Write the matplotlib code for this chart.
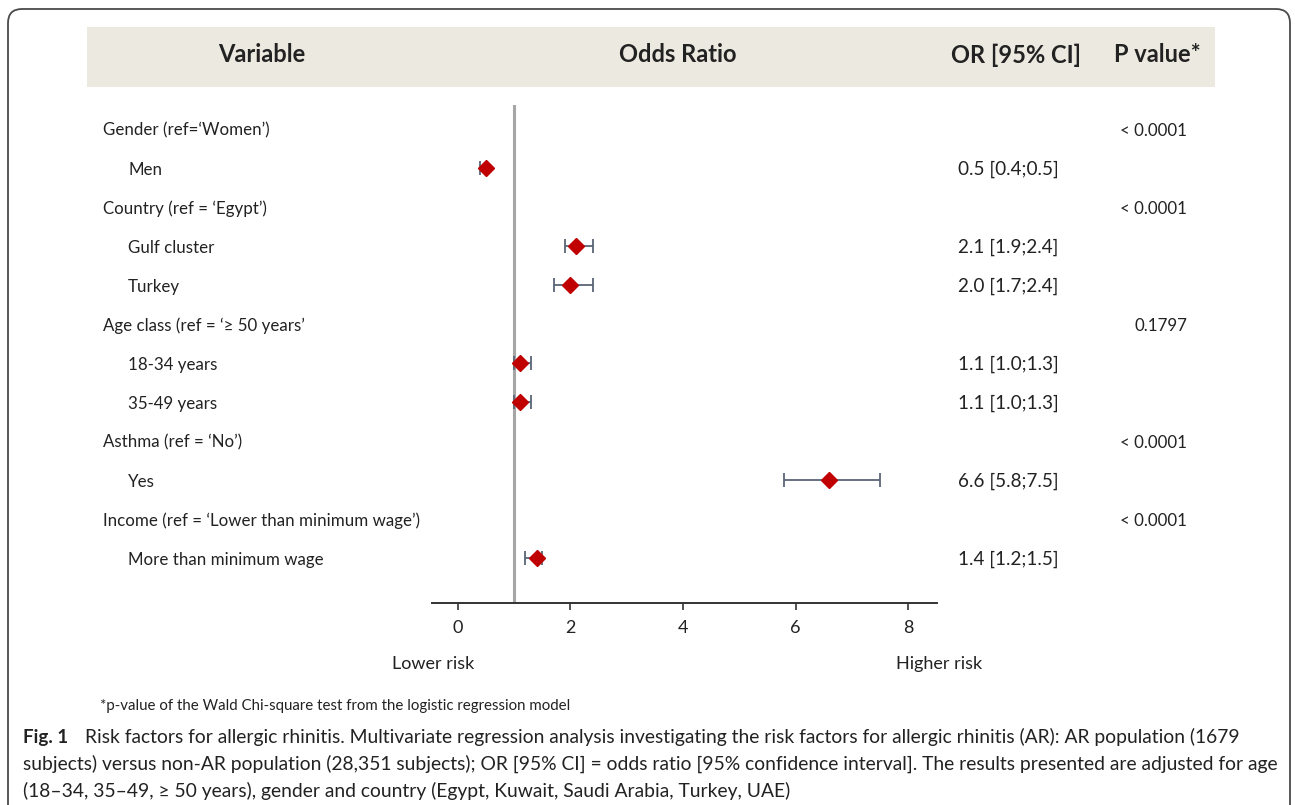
import matplotlib
matplotlib.use("Agg")
from matplotlib import pyplot as plt
from matplotlib.patches import Rectangle, FancyBboxPatch
from matplotlib.transforms import blended_transform_factory, IdentityTransform

plt.rcParams['font.family'] = ['Lato', 'DejaVu Sans']

# rows of the table, top to bottom
row_labels = ["Gender (ref=\u2018Women\u2019)", "Men",
              "Country (ref = \u2018Egypt\u2019)", "Gulf cluster", "Turkey",
              "Age class (ref = \u2018\u2265 50 years\u2019", "18-34 years", "35-49 years",
              "Asthma (ref = \u2018No\u2019)", "Yes",
              "Income (ref = \u2018Lower than minimum wage\u2019)", "More than minimum wage"]
is_group = [True, False, True, False, False, True, False, False, True, False, True, False]

# odds ratios with 95% CI for the non-reference levels
level_rows = [1, 3, 4, 6, 7, 9, 11]
odds = [0.5, 2.1, 2.0, 1.1, 1.1, 6.6, 1.4]
ci_low = [0.4, 1.9, 1.7, 1.0, 1.0, 5.8, 1.2]
ci_high = [0.5, 2.4, 2.4, 1.3, 1.3, 7.5, 1.5]

# p-values for the group rows
group_rows = [0, 2, 5, 8, 10]
p_values = ["< 0.0001", "< 0.0001", "0.1797", "< 0.0001", "< 0.0001"]

W, H = 1295, 805
fig = plt.figure(figsize=(W / 100, H / 100), dpi=100)
fig.patch.set_facecolor("white")

def fx(px):
    return px / W

def fy(py):
    return 1 - py / H

# rounded frame around the figure panel
frame = FancyBboxPatch((8, -40), 1282, H - 9 + 40,
                       boxstyle="round,pad=0,rounding_size=14",
                       transform=IdentityTransform(), fill=False,
                       edgecolor="#4a4a4a", linewidth=1.3)
fig.patches.append(frame)

# header band
fig.patches.append(Rectangle((fx(87), fy(87)), fx(1215) - fx(87), fy(27) - fy(87),
                             transform=fig.transFigure, facecolor="#ECEAE0",
                             edgecolor="none"))
hdr_y = fy(55)
for txt, x in [("Variable", 262), ("Odds Ratio", 678), ("OR [95% CI]", 1016), ("P value*", 1157)]:
    fig.text(fx(x), hdr_y, txt, ha="center", va="center", fontsize=17,
             fontweight="bold", color="#222222")

# forest plot axes: x from -0.46 to 8.51, rows spaced evenly
ax = fig.add_axes([fx(432), fy(603), fx(937) - fx(432), fy(105) - fy(603)])
ax.set_xlim(-0.46, 8.51)
ax.set_ylim((603 - 129) / 39, (105 - 129) / 39)
ax.patch.set_alpha(0)
for s in ["top", "right", "left"]:
    ax.spines[s].set_visible(False)
ax.spines["bottom"].set_color("#333333")
ax.spines["bottom"].set_linewidth(1.4)
ax.set_yticks([])
ax.set_xticks([0, 2, 4, 6, 8])
ax.tick_params(axis="x", length=5, width=1.2, color="#333333", labelsize=13,
               labelcolor="#222222", pad=7)

ax.axvline(1, color="#A6A6A6", linewidth=2.2, zorder=1)

xerr = [[o - l for o, l in zip(odds, ci_low)], [h - o for o, h in zip(odds, ci_high)]]
ax.errorbar(odds, level_rows, xerr=xerr, fmt="none", ecolor="#5A6577",
            elinewidth=1.3, capsize=5, capthick=1.3, zorder=2)
ax.plot(odds, level_rows, linestyle="none", marker="D", markersize=8.5,
        color="#C00000", zorder=3)

tr = blended_transform_factory(fig.transFigure, ax.transData)
for i, (lab, grp) in enumerate(zip(row_labels, is_group)):
    ax.text(fx(103 if grp else 128), i + 0.04, lab, transform=tr, ha="left", va="center",
            fontsize=12.2, color="#222222", clip_on=False)

for r, o, l, h in zip(level_rows, odds, ci_low, ci_high):
    ax.text(fx(958), r + 0.04, f"{o:.1f} [{l:.1f};{h:.1f}]", transform=tr, ha="left",
            va="center", fontsize=13.6, color="#222222", clip_on=False)

for r, p in zip(group_rows, p_values):
    ax.text(fx(1187), r + 0.04, p, transform=tr, ha="right", va="center",
            fontsize=12.2, color="#222222", clip_on=False)

fig.text(fx(433), fy(664), "Lower risk", ha="center", va="center", fontsize=13, color="#222222")
fig.text(fx(939), fy(664), "Higher risk", ha="center", va="center", fontsize=13, color="#222222")

fig.text(fx(100), fy(706), "*p-value of the Wald Chi-square test from the logistic regression model",
         ha="left", va="center", fontsize=10.8, color="#222222")

cap_lines = [
    "Risk factors for allergic rhinitis. Multivariate regression analysis investigating the risk factors for allergic rhinitis (AR): AR population (1679",
    "subjects) versus non-AR population (28,351 subjects); OR [95% CI] = odds ratio [95% confidence interval]. The results presented are adjusted for age",
    "(18\u201334, 35\u201349, \u2265 50 years), gender and country (Egypt, Kuwait, Saudi Arabia, Turkey, UAE)",
]
fig.text(fx(23), fy(737), "Fig. 1", ha="left", va="center", fontsize=13.5,
         fontweight="bold", color="#222222")
fig.text(fx(85), fy(737), cap_lines[0], ha="left", va="center", fontsize=13.85, color="#222222")
fig.text(fx(23), fy(764), cap_lines[1], ha="left", va="center", fontsize=13.85, color="#222222")
fig.text(fx(23), fy(791), cap_lines[2], ha="left", va="center", fontsize=13.85, color="#222222")

fig.savefig("out.png", dpi=100)
